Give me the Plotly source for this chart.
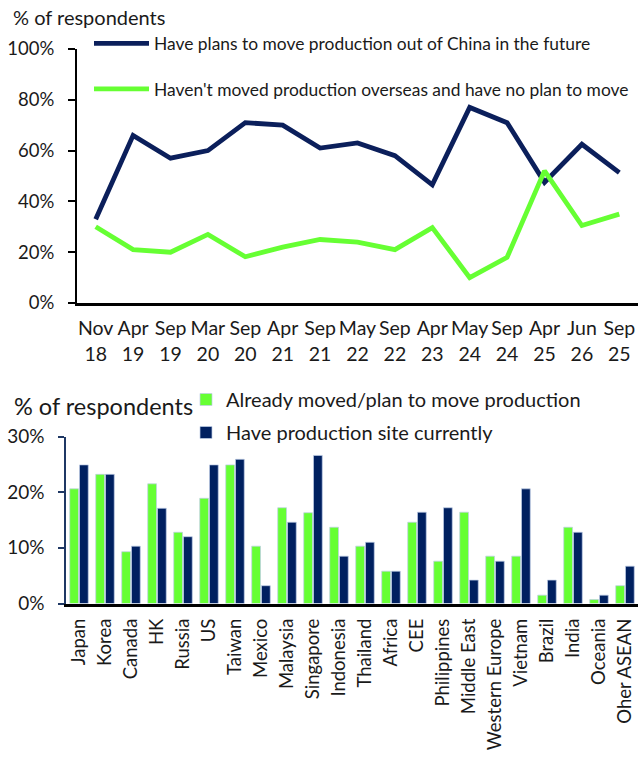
import plotly.graph_objects as go

# ---- Survey timeline (top panel) ----
months = ["Nov", "Apr", "Sep", "Mar", "Sep", "Apr", "Sep", "May", "Sep", "Apr", "May", "Sep", "Apr", "Jun", "Sep"]
years = ["18", "19", "19", "20", "20", "21", "21", "22", "22", "23", "24", "24", "25", "26", "25"]
plan_to_move = [0.33, 0.66, 0.57, 0.60, 0.71, 0.70, 0.61, 0.63, 0.58, 0.465, 0.77, 0.71, 0.475, 0.625, 0.513]
no_plan = [0.30, 0.21, 0.20, 0.27, 0.182, 0.22, 0.25, 0.24, 0.21, 0.297, 0.10, 0.18, 0.52, 0.305, 0.35]

# ---- Destinations (bottom panel) ----
countries = ["Japan", "Korea", "Canada", "HK", "Russia", "US", "Taiwan", "Mexico", "Malaysia",
             "Singapore", "Indonesia", "Thailand", "Africa", "CEE", "Philippines", "Middle East",
             "Western Europe", "Vietnam", "Brazil", "India", "Oceania", "Oher ASEAN"]
moved = [0.206, 0.232, 0.093, 0.215, 0.128, 0.189, 0.249, 0.103, 0.172, 0.163, 0.137, 0.103,
         0.058, 0.146, 0.076, 0.164, 0.085, 0.085, 0.015, 0.137, 0.007, 0.032]
have_site = [0.249, 0.232, 0.103, 0.171, 0.120, 0.249, 0.259, 0.032, 0.146, 0.266, 0.085, 0.110,
             0.058, 0.164, 0.172, 0.042, 0.076, 0.206, 0.042, 0.128, 0.015, 0.067]

NAVY = "#0B1F5B"
BAR_NAVY = "#002060"
GREEN = "#66FF33"
TXT = "#1a1a1a"
FONT = "Lato"

W, H = 638, 760


def px_x(v):
    return v / W


def px_y(v):
    return 1 - v / H


categories = [f"{m} {y}" for m, y in zip(months, years)]
ticktext = [f"{m}<br>{y}" for m, y in zip(months, years)]

fig = go.Figure()

fig.add_trace(go.Scatter(
    x=categories, y=plan_to_move, mode="lines",
    name="Have plans to move production out of China in the future",
    line=dict(color=NAVY, width=4.8), xaxis="x", yaxis="y",
    legend="legend", legendgroup="a",
))
fig.add_trace(go.Scatter(
    x=categories, y=no_plan, mode="lines",
    name="Haven't moved production overseas and have no plan to move",
    line=dict(color=GREEN, width=4.8), xaxis="x", yaxis="y",
    legend="legend", legendgroup="b",
))

bar_edge = dict(color="rgba(190,205,230,0.9)", width=0.8)
fig.add_trace(go.Bar(
    x=countries, y=moved, name="Already moved/plan to move production",
    marker=dict(color=GREEN, line=bar_edge), xaxis="x2", yaxis="y2",
    legend="legend2", legendgroup="c",
))
fig.add_trace(go.Bar(
    x=countries, y=have_site, name="Have production site currently",
    marker=dict(color=BAR_NAVY, line=bar_edge), xaxis="x2", yaxis="y2",
    legend="legend2", legendgroup="d",
))

fig.update_layout(
    width=W, height=H,
    margin=dict(l=0, r=0, t=0, b=0, autoexpand=False),
    paper_bgcolor="white", plot_bgcolor="white",
    font=dict(family=FONT, color=TXT, size=17),
    barmode="group", bargap=0.25, bargroupgap=0.1,
    xaxis=dict(
        domain=[px_x(77), 1.0], anchor="y", automargin=False,
        tickmode="array", tickvals=categories, ticktext=ticktext,
        range=[-0.5, len(categories) - 0.5],
        showline=True, linecolor="black", linewidth=2.5,
        ticks="", showgrid=False, tickfont=dict(size=19.5),
        ticklabelstandoff=6, fixedrange=True,
    ),
    yaxis=dict(
        domain=[px_y(303), px_y(49)], anchor="x", automargin=False,
        range=[0, 1.0], tickvals=[0, 0.2, 0.4, 0.6, 0.8, 1.0], tickformat=".0%",
        showline=True, linecolor="black", linewidth=2,
        ticks="outside", ticklen=7, tickwidth=1.5, tickcolor="black",
        showgrid=False, zeroline=False, tickfont=dict(size=18.5),
        ticklabelstandoff=10,
    ),
    xaxis2=dict(
        domain=[px_x(66), 1.0], anchor="y2", automargin=False,
        showline=True, linecolor="black", linewidth=2.5,
        ticks="", showgrid=False, tickangle=-90, tickfont=dict(size=18.5),
        ticklabelstandoff=5,
    ),
    yaxis2=dict(
        domain=[px_y(603.5), px_y(436.5)], anchor="x2", automargin=False,
        range=[0, 0.30], tickvals=[0, 0.1, 0.2, 0.3], tickformat=".0%",
        showline=True, linecolor="#1F3864", linewidth=1.5,
        ticks="outside", ticklen=6, tickwidth=1.5, tickcolor="#1F3864",
        showgrid=False, zeroline=False, tickfont=dict(size=19),
        ticklabelstandoff=10,
    ),
    legend=dict(
        x=px_x(89), y=px_y(25.5), xanchor="left", yanchor="top",
        bgcolor="rgba(0,0,0,0)", font=dict(size=17.4, color=TXT),
        tracegroupgap=20, itemwidth=55,
    ),
    legend2=dict(
        x=px_x(186), y=px_y(380), xanchor="left", yanchor="top",
        bgcolor="rgba(0,0,0,0)", font=dict(size=20, color=TXT),
        tracegroupgap=4, traceorder="grouped",
    ),
    annotations=[
        dict(text="% of respondents", x=px_x(11), y=px_y(17), xref="paper", yref="paper",
             xanchor="left", yanchor="middle", showarrow=False, font=dict(size=20, color=TXT)),
        dict(text="% of respondents", x=px_x(12), y=px_y(406), xanchor="left", yanchor="middle",
             xref="paper", yref="paper", showarrow=False, font=dict(size=23.5, color=TXT)),
    ],
)

fig.write_html("out.html")
